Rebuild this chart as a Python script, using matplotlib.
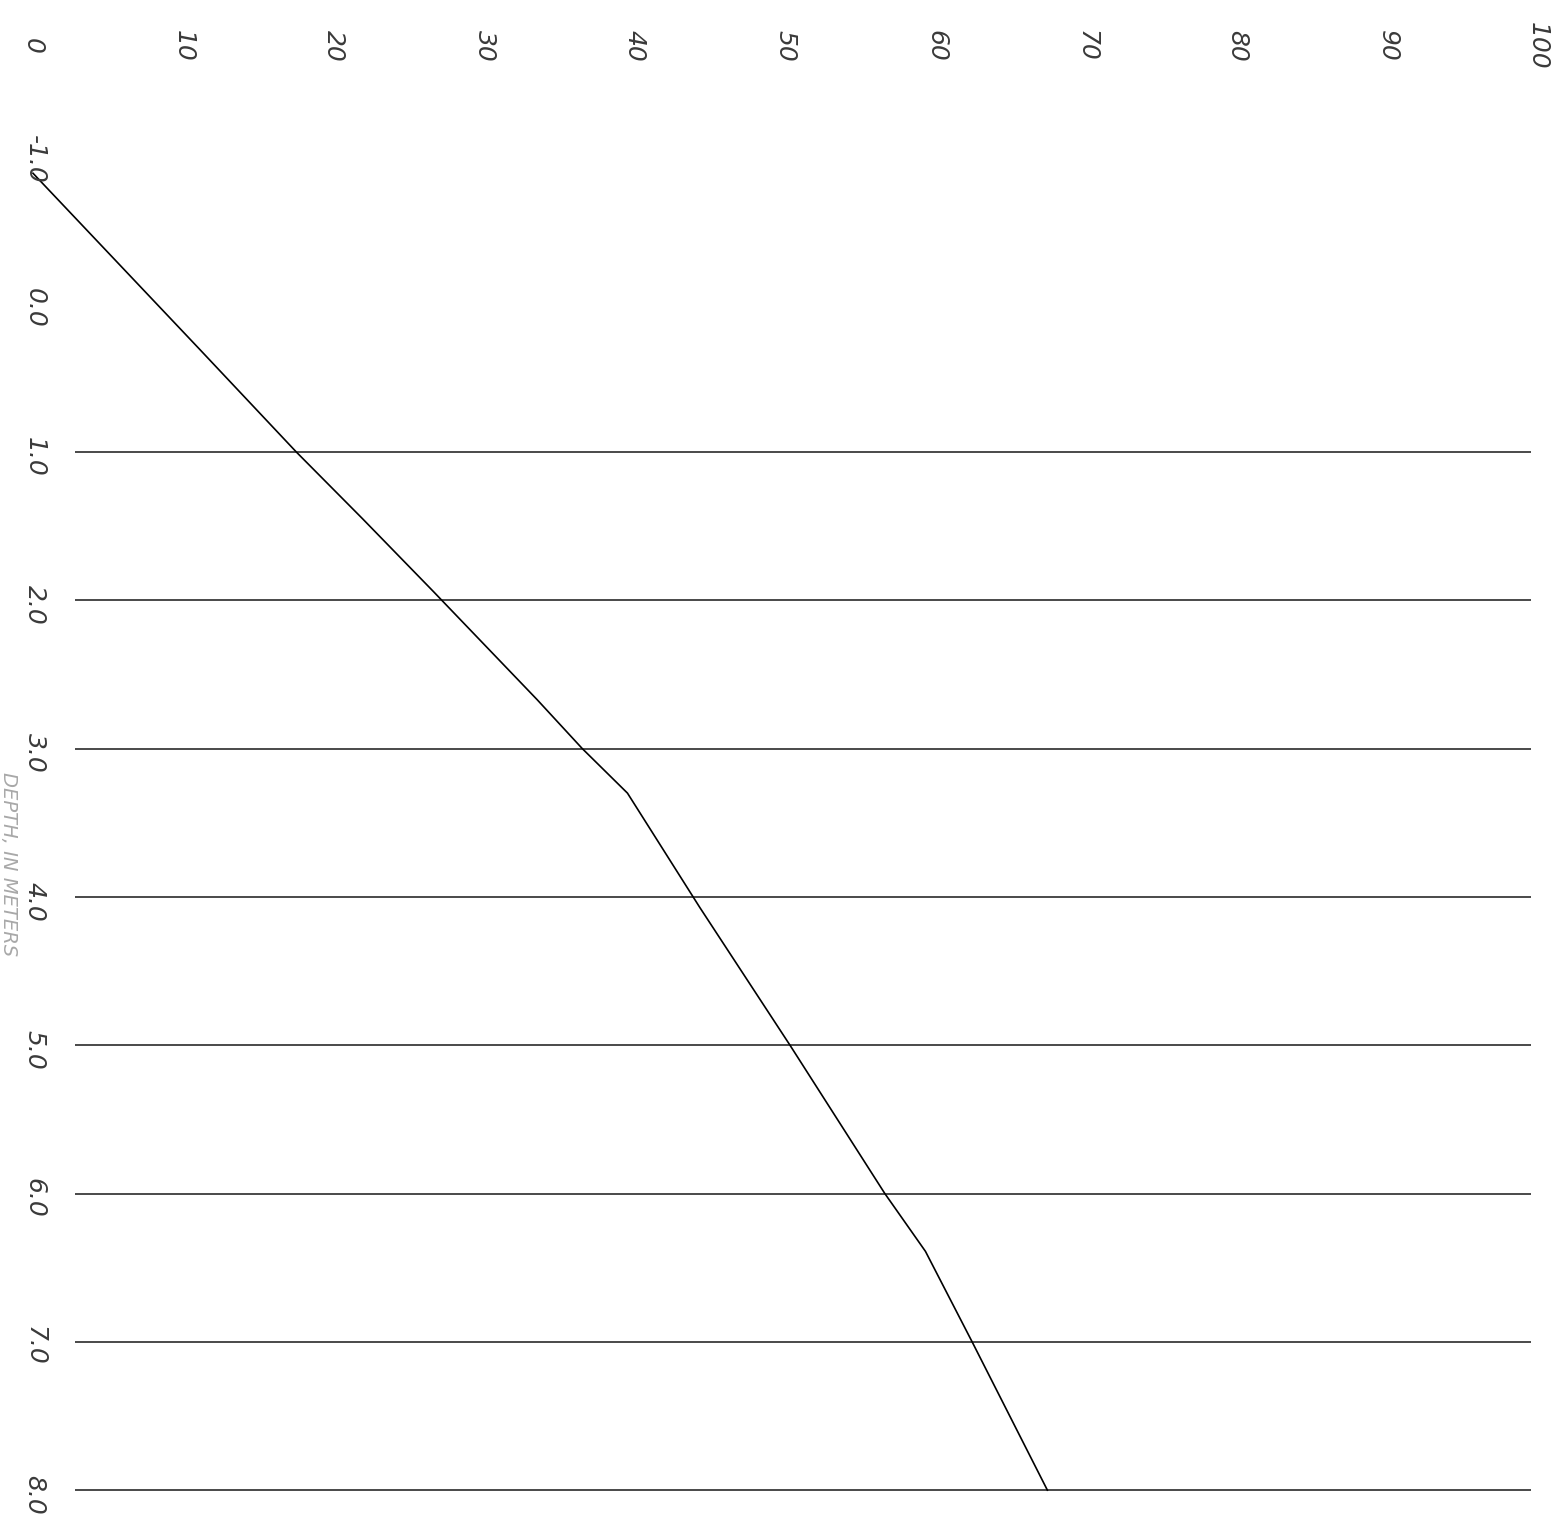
import matplotlib
matplotlib.use("Agg")
import matplotlib.pyplot as plt

# ---------------------------------------------------------------
# Data (page is turned 90 deg clockwise)
# ---------------------------------------------------------------

pct_ticks = [0, 10, 20, 30, 40, 50, 60, 70, 80, 90, 100]
pct_labels = ["0", "10", "20", "30", "40", "50", "60", "70", "80", "90", "100"]

depth_ticks = [-1.0, 0.0, 1.0, 2.0, 3.0, 4.0, 5.0, 6.0, 7.0, 8.0]
depth_labels = ["-1.0", "0.0", "1.0", "2.0", "3.0", "4.0", "5.0", "6.0", "7.0", "8.0"]

ruled_depths = [1.0, 2.0, 3.0, 4.0, 5.0, 6.0, 7.0, 8.0]

curve_pct = [0.0, 11.1, 17.5, 21.9, 26.6, 33.5, 36.5, 39.5,
             44.3, 50.3, 56.6, 59.3, 62.4, 67.4]
curve_depth = [-0.88, 0.31, 1.0, 1.45, 1.94, 2.67, 3.0, 3.30,
               4.07, 5.0, 6.0, 6.39, 7.0, 8.0]

axis_title = "DEPTH, IN METERS"

# ---------------------------------------------------------------
# Figure: one axes filling the sheet, no frame
# ---------------------------------------------------------------

fig = plt.figure(figsize=(15.6, 15.29), dpi=100)
ax = fig.add_axes([0, 0, 1, 1])
ax.set_xlim(-2.19, 101.46)
ax.set_ylim(8.262, -2.048)
ax.axis("off")

# ruled lines across the log
ax.hlines(ruled_depths, 2.8, 99.5, color="#2a2a2a", linewidth=1.2)

# the curve
ax.plot(curve_pct, curve_depth, color="black", linewidth=1.2)

# scale along the top, written sideways
for v, lab in zip(pct_ticks, pct_labels):
    ax.text(v, -1.74, lab, rotation=-90, ha="center", va="center",
            fontsize=18, style="italic", color="#3a3a3a")

# depth labels down the left edge
for d, lab in zip(depth_ticks, depth_labels):
    ax.text(0.1, d + 0.03, lab, rotation=-90, ha="center", va="center",
            fontsize=18, style="italic", color="#3a3a3a")

# faded axis title squeezed against the sheet edge
ax.text(-1.62, 3.78, axis_title, rotation=-90, ha="center", va="center",
        fontsize=14, style="italic", color="#a8a8a8")

plt.savefig("out.png", dpi=100)
